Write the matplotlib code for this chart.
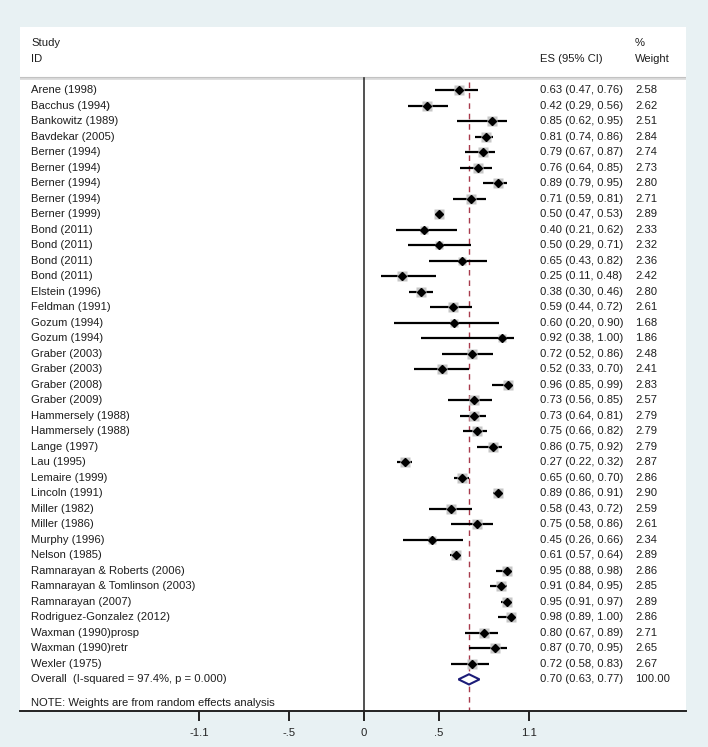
import matplotlib
matplotlib.use("Agg")
import matplotlib.pyplot as plt
from matplotlib.patches import Polygon
import numpy as np

plt.rcParams['font.family'] = ['Liberation Sans', 'DejaVu Sans']

studies = ["Arene (1998)", "Bacchus (1994)", "Bankowitz (1989)", "Bavdekar (2005)",
           "Berner (1994)", "Berner (1994)", "Berner (1994)", "Berner (1994)",
           "Berner (1999)", "Bond (2011)", "Bond (2011)", "Bond (2011)", "Bond (2011)",
           "Elstein (1996)", "Feldman (1991)", "Gozum (1994)", "Gozum (1994)",
           "Graber (2003)", "Graber (2003)", "Graber (2008)", "Graber (2009)",
           "Hammersely (1988)", "Hammersely (1988)", "Lange (1997)", "Lau (1995)",
           "Lemaire (1999)", "Lincoln (1991)", "Miller (1982)", "Miller (1986)",
           "Murphy (1996)", "Nelson (1985)", "Ramnarayan & Roberts (2006)",
           "Ramnarayan & Tomlinson (2003)", "Ramnarayan (2007)",
           "Rodriguez-Gonzalez (2012)", "Waxman (1990)prosp", "Waxman (1990)retr",
           "Wexler (1975)"]
es = [0.63, 0.42, 0.85, 0.81, 0.79, 0.76, 0.89, 0.71, 0.50, 0.40, 0.50, 0.65, 0.25,
      0.38, 0.59, 0.60, 0.92, 0.72, 0.52, 0.96, 0.73, 0.73, 0.75, 0.86, 0.27, 0.65,
      0.89, 0.58, 0.75, 0.45, 0.61, 0.95, 0.91, 0.95, 0.98, 0.80, 0.87, 0.72]
ci_lo = [0.47, 0.29, 0.62, 0.74, 0.67, 0.64, 0.79, 0.59, 0.47, 0.21, 0.29, 0.43, 0.11,
         0.30, 0.44, 0.20, 0.38, 0.52, 0.33, 0.85, 0.56, 0.64, 0.66, 0.75, 0.22, 0.60,
         0.86, 0.43, 0.58, 0.26, 0.57, 0.88, 0.84, 0.91, 0.89, 0.67, 0.70, 0.58]
ci_hi = [0.76, 0.56, 0.95, 0.86, 0.87, 0.85, 0.95, 0.81, 0.53, 0.62, 0.71, 0.82, 0.48,
         0.46, 0.72, 0.90, 1.00, 0.86, 0.70, 0.99, 0.85, 0.81, 0.82, 0.92, 0.32, 0.70,
         0.91, 0.72, 0.86, 0.66, 0.64, 0.98, 0.95, 0.97, 1.00, 0.89, 0.95, 0.83]
weights = [2.58, 2.62, 2.51, 2.84, 2.74, 2.73, 2.80, 2.71, 2.89, 2.33, 2.32, 2.36, 2.42,
           2.80, 2.61, 1.68, 1.86, 2.48, 2.41, 2.83, 2.57, 2.79, 2.79, 2.79, 2.87, 2.86,
           2.90, 2.59, 2.61, 2.34, 2.89, 2.86, 2.85, 2.89, 2.86, 2.71, 2.65, 2.67]
overall_label = "Overall  (I-squared = 97.4%, p = 0.000)"
overall_es, overall_lo, overall_hi, overall_w = 0.70, 0.63, 0.77, 100.00
note_text = "NOTE: Weights are from random effects analysis"
xticks = [-1.1, -0.5, 0, 0.5, 1.1]
xtick_labels = ["-1.1", "-.5", "0", ".5", "1.1"]

# ---- layout ----
W, H = 708, 747
fig = plt.figure(figsize=(W / 100, H / 100), dpi=100)
fig.patch.set_facecolor('#e8f1f3')
px_l, px_r, px_t, px_b = 20, 686, 27, 711
ax = fig.add_axes([px_l / W, 1 - px_b / H, (px_r - px_l) / W, (px_b - px_t) / H])
ax.set_facecolor('white')

x0_px, scale = 364.0, 150.0
def xd(px):
    return (px - x0_px) / scale

row0_px, row_h = 90.0, 15.51
def yd(px):
    return (px - row0_px) / row_h

ax.set_xlim(xd(px_l), xd(px_r))
ax.set_ylim(yd(px_b), yd(px_t))

for s in ['top', 'right', 'left']:
    ax.spines[s].set_visible(False)
ax.spines['bottom'].set_linewidth(1.4)
ax.spines['bottom'].set_color('#222222')
ax.set_yticks([])
ax.set_xticks(xticks)
ax.set_xticklabels(xtick_labels, fontsize=8.1, color='#222222')
ax.tick_params(axis='x', direction='out', length=7.5, width=1.4, pad=4.5, color='#222222')

txt_col = '#1e1e1e'
fs = 8.1
x_study = xd(31)
x_es = xd(540)
x_w = xd(635)

# header
ax.text(x_study, yd(43), "Study", fontsize=fs, va='center', ha='left', color=txt_col)
ax.text(x_study, yd(59), "ID", fontsize=fs, va='center', ha='left', color=txt_col)
ax.text(x_es, yd(59), "ES (95% CI)", fontsize=fs, va='center', ha='left', color=txt_col)
ax.text(x_w, yd(43), "%", fontsize=fs, va='center', ha='left', color=txt_col)
ax.text(x_w, yd(59), "Weight", fontsize=fs, va='center', ha='left', color=txt_col)
ax.axhline(yd(77.8), color='#dadada', lw=2.0)
ax.axhline(yd(77.0), color='#c2c2c2', lw=0.8)

n = len(studies)
rows = np.arange(n)
ybot = yd(px_b)

# null line and overall line
ax.plot([0, 0], [yd(78), ybot], color='#333333', lw=1.2, zorder=2)
ax.plot([overall_es, overall_es], [yd(82), ybot], color='#a83a4c', lw=1.0,
        dashes=(4, 3.5), zorder=2)

for i in range(n):
    ax.plot([ci_lo[i], ci_hi[i]], [rows[i], rows[i]], color='black', lw=1.6,
            solid_capstyle='butt', zorder=3)
    ax.plot(es[i], rows[i], marker='s', ms=4.2 * np.sqrt(weights[i]),
            color='#c6c6c6', mec='none', zorder=3.5)
    ax.plot(es[i], rows[i], marker='D', ms=3.7, color='black', mec='black', zorder=4)
    ax.text(x_study, rows[i], studies[i], fontsize=fs, va='center', ha='left', color=txt_col)
    ax.text(x_es, rows[i], f"{es[i]:.2f} ({ci_lo[i]:.2f}, {ci_hi[i]:.2f})",
            fontsize=fs, va='center', ha='left', color=txt_col)
    ax.text(x_w, rows[i], f"{weights[i]:.2f}", fontsize=fs, va='center', ha='left',
            color=txt_col)

yo = n
dh = 0.33
diamond = Polygon([[overall_lo, yo], [overall_es, yo - dh], [overall_hi, yo],
                   [overall_es, yo + dh]], closed=True, facecolor='white',
                  edgecolor='#1c1c78', lw=1.5, zorder=5)
ax.add_patch(diamond)
ax.text(x_study, yo, overall_label, fontsize=fs, va='center', ha='left', color=txt_col)
ax.text(x_es, yo, f"{overall_es:.2f} ({overall_lo:.2f}, {overall_hi:.2f})",
        fontsize=fs, va='center', ha='left', color=txt_col)
ax.text(x_w, yo, f"{overall_w:.2f}", fontsize=fs, va='center', ha='left', color=txt_col)
ax.text(x_study, yd(703), note_text, fontsize=fs, va='center', ha='left', color=txt_col)

fig.savefig("out.png", dpi=100, facecolor=fig.get_facecolor())
